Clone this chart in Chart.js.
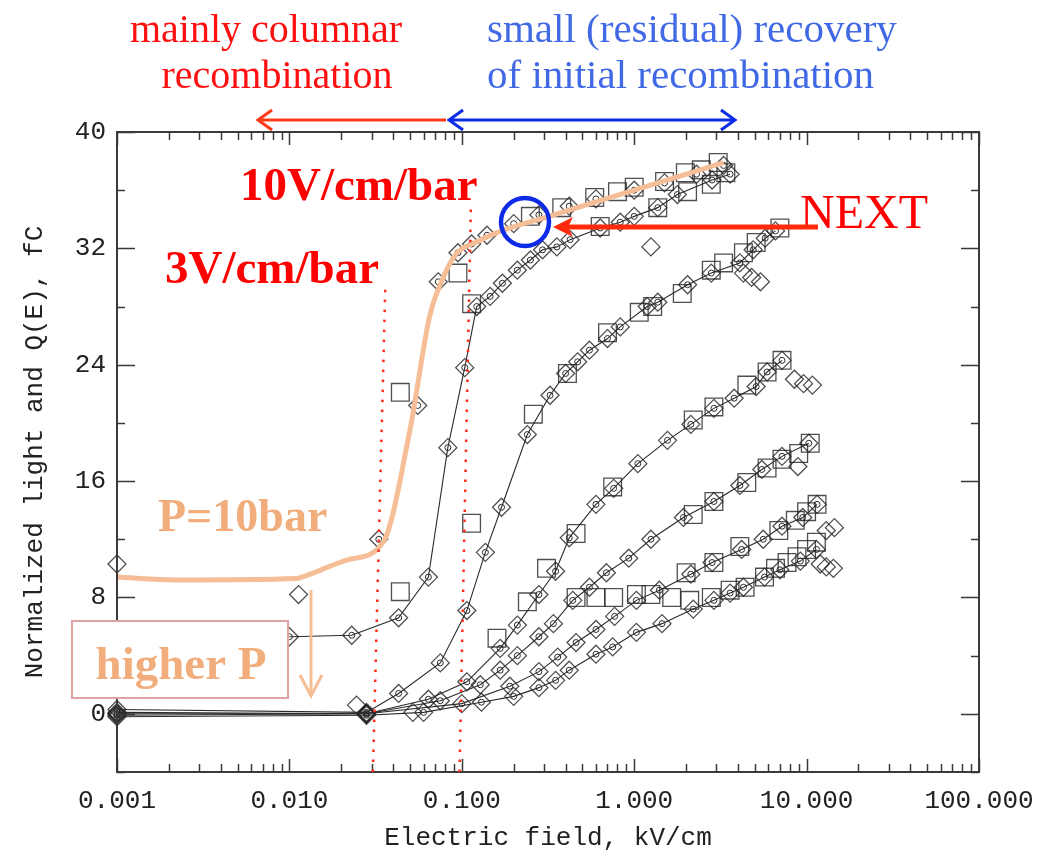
<!DOCTYPE html>
<html>
<head>
<meta charset="utf-8">
<script src="https://cdn.jsdelivr.net/npm/chart.js@4.4.1/dist/chart.umd.min.js"></script>
<style>
    html, body { margin: 0; padding: 0; background: #fff; }
    #wrap { width: 1041px; height: 856px; }
</style>
</head>
<body>
<div id="wrap"><canvas id="chart" width="1041" height="856"></canvas></div>
<script>
// --- values: [field kV/cm, normalized light / Q(E) fC] ---
const xTicks = [0.001, 0.01, 0.1, 1, 10, 100];
const yTicks = [0, 8, 16, 24, 32, 40];

const peachLine = [[0.001, 9.4], [0.0022, 9.2], [0.011, 9.3], [0.0125, 9.5], [0.022, 10.6], [0.035, 11.8],
    [0.05, 19.5], [0.065, 27.3], [0.078, 30.0], [0.094, 31.7], [0.12, 32.4], [0.17, 33.2], [0.3, 34.1],
    [1.0, 36.0], [3.3, 37.9]];

// lowest pressure: markers only, the hand-drawn peach curve sits on top of it
const curveA = [[0.033, 12.0], [0.0555, 21.2], [0.073, 29.7], [0.095, 31.7], [0.114, 32.3], [0.14, 32.9],
    [0.2, 33.7], [0.28, 34.3], [0.42, 34.9], [0.6, 35.4], [1.0, 36.0], [1.5, 36.5], [2.3, 37.1], [3.3, 37.7]];
const curveB = [[0.01, 5.3], [0.023, 5.4], [0.043, 6.6], [0.064, 9.4], [0.083, 18.3], [0.104, 23.8],
    [0.122, 28.0], [0.146, 28.7], [0.172, 29.6], [0.21, 30.5], [0.25, 31.2], [0.294, 31.9], [0.356, 32.1],
    [0.425, 32.6], [0.635, 33.4], [0.83, 33.8], [1.0, 34.2], [1.37, 34.8], [1.78, 35.7], [2.83, 36.7], [3.6, 37.1]];
const curveC = [[0.001, 0.3], [0.028, 0.1], [0.043, 1.4], [0.075, 3.5], [0.107, 7.1], [0.137, 11.1],
    [0.17, 14.2], [0.24, 19.2], [0.325, 21.9], [0.4, 23.4], [0.47, 24.2], [0.55, 25.0], [0.7, 25.8],
    [0.83, 26.6], [1.19, 28.0], [1.37, 28.3], [2.04, 29.5], [2.8, 30.3], [4.1, 31.0], [4.9, 31.9],
    [5.75, 32.7], [6.6, 33.2]];
const curveD = [[0.001, 0.1], [0.028, 0.0], [0.064, 1.0], [0.107, 2.2], [0.167, 4.5], [0.21, 6.1],
    [0.28, 8.2], [0.35, 9.8], [0.42, 12.1], [0.6, 14.4], [0.76, 15.5], [1.05, 17.2], [1.56, 18.8],
    [2.13, 19.9], [2.9, 21.0], [3.8, 21.7], [5.1, 22.5], [5.9, 23.5], [7.2, 24.3]];
const curveE = [[0.001, 0.0], [0.028, 0.0], [0.075, 0.9], [0.128, 2.0], [0.167, 3.0], [0.21, 4.0],
    [0.28, 5.3], [0.34, 6.2], [0.44, 7.8], [0.55, 8.7], [0.69, 9.7], [0.93, 10.7], [1.25, 12.0],
    [1.93, 13.5], [2.9, 14.6], [4.1, 15.7], [5.5, 16.8], [7.2, 17.7], [10.3, 18.6]];
const curveF = [[0.001, -0.1], [0.028, 0.0], [0.1, 0.7], [0.19, 1.9], [0.28, 2.9], [0.36, 3.9],
    [0.46, 4.9], [0.6, 5.8], [0.77, 6.7], [1.03, 7.8], [1.4, 8.5], [2.13, 9.6], [2.83, 10.4],
    [4.2, 11.3], [5.6, 12.0], [7.2, 12.9], [9.5, 13.5], [11.5, 14.4]];
const curveG = [[0.001, -0.2], [0.028, -0.1], [0.06, 0.1], [0.13, 0.8], [0.2, 1.2], [0.28, 1.8],
    [0.35, 2.3], [0.42, 3.0], [0.6, 4.1], [0.75, 4.6], [1.03, 5.6], [1.45, 6.2], [2.2, 7.2], [2.9, 7.8],
    [3.6, 8.3], [4.3, 8.7], [5.7, 9.4], [7.0, 9.9], [9.2, 10.5], [11.4, 11.3]];

const extraDiamonds = [[0.001, 10.3], [0.0113, 8.2], [0.001, 0.0], [0.0245, 0.6], [0.052, 0.1],
    [1.25, 32.1], [4.3, 30.3], [4.8, 30.0], [5.4, 29.7], [8.5, 23.0], [9.6, 22.7], [10.8, 22.6],
    [8.9, 17.0], [13.0, 12.6], [14.5, 12.8], [12.0, 10.3], [13.0, 10.1], [14.3, 10.0]];

const squares = [[0.044, 22.1], [0.095, 30.3], [0.114, 28.2], [0.25, 34.2], [0.38, 34.8], [0.59, 35.5],
    [0.8, 35.9], [1.0, 36.2], [1.5, 36.6], [1.98, 37.2], [2.45, 37.4], [3.07, 37.9], [3.4, 37.2],
    [0.635, 33.5], [1.37, 34.8], [2.04, 35.9], [2.8, 36.4],
    [0.26, 20.6], [0.41, 23.4], [0.7, 26.2], [1.07, 27.6], [1.28, 28.0], [1.9, 28.9], [2.8, 30.5],
    [3.3, 31.0], [4.3, 31.7], [5.1, 32.4], [7.0, 33.4],
    [0.044, 8.4], [0.114, 13.1], [0.16, 5.2], [0.24, 7.7], [0.31, 10.0], [0.46, 12.4], [0.75, 15.6],
    [2.2, 20.2], [2.9, 21.1], [4.5, 22.6], [5.9, 23.5], [7.2, 24.3],
    [2.2, 13.7], [2.9, 14.6], [4.5, 15.9], [5.9, 16.9], [7.2, 17.5], [9.0, 17.9], [10.5, 18.6],
    [2.0, 9.7], [2.9, 10.4], [4.1, 11.5], [6.9, 12.6], [8.6, 13.3], [10.0, 13.9], [11.5, 14.4],
    [0.46, 8.0], [0.6, 8.0], [0.76, 8.0], [1.03, 8.2], [1.25, 8.2], [1.65, 8.0], [2.1, 7.8],
    [2.8, 8.0], [3.6, 8.5], [4.4, 8.7], [5.7, 9.4], [6.6, 10.0], [7.7, 10.4], [8.8, 10.8],
    [10.0, 11.3], [11.4, 11.8]];

// field where 3 V/cm/bar and 10 V/cm/bar sit at 10 bar (bottom, top, top height)
const guideLines = [[0.0305, 0.036, 29.3], [0.097, 0.113, 35.1]];

const linedCurves = [curveB, curveC, curveD, curveE, curveF, curveG];

const PEACH = '#F5BE96';
const PEACH_TEXT = '#F1AE7C';
const INK = '#2a2a2a';
const MARK = 'rgba(35,35,35,0.8)';

const toXY = list => list.map(p => ({ x: p[0], y: p[1] }));

const datasets = [];
datasets.push({
    data: toXY(peachLine),
    showLine: true,
    borderColor: PEACH,
    borderWidth: 5,
    pointRadius: 0,
    cubicInterpolationMode: 'monotone',
    clip: false,
    order: 0
});
[curveA].concat(linedCurves).forEach(c => {
    datasets.push({
        data: toXY(c),
        showLine: c !== curveA,
        borderColor: INK,
        borderWidth: 1.1,
        pointStyle: 'circle',
        pointRadius: 3,
        pointBorderWidth: 1,
        pointBorderColor: INK,
        pointBackgroundColor: 'rgba(0,0,0,0)',
        clip: false,
        order: 2
    });
});
datasets.push({
    data: toXY([curveA].concat(linedCurves).flat().concat(extraDiamonds)),
    showLine: false,
    pointStyle: 'rectRot',
    pointRadius: 9,
    pointBorderWidth: 1.3,
    pointBorderColor: MARK,
    pointBackgroundColor: 'rgba(0,0,0,0)',
    clip: false,
    order: 3
});
datasets.push({
    data: toXY(squares),
    showLine: false,
    pointStyle: 'rect',
    pointRadius: 12.5,
    pointBorderWidth: 1.3,
    pointBorderColor: MARK,
    pointBackgroundColor: 'rgba(0,0,0,0)',
    clip: false,
    order: 3
});

// box, inward ticks on all four sides, log minor ticks
const framePlugin = {
    id: 'frame',
    afterDatasetsDraw(chart) {
        const { ctx, chartArea: a, scales: { x, y } } = chart;
        ctx.save();
        ctx.strokeStyle = '#3a3a3a';
        ctx.lineWidth = 1.5;
        ctx.beginPath();
        for (let d = -3; d <= 2; d++) {
            for (let m = 1; m <= 9; m++) {
                const v = m * Math.pow(10, d);
                if (v > 100.0001) break;
                const px = Math.round(x.getPixelForValue(v)) + 0.5;
                const len = m === 1 ? 13 : 8;
                ctx.moveTo(px, a.bottom); ctx.lineTo(px, a.bottom - len);
                ctx.moveTo(px, a.top); ctx.lineTo(px, a.top + len);
            }
        }
        for (let v = -4; v <= 40; v += 4) {
            const py = Math.round(y.getPixelForValue(v)) + 0.5;
            const len = v % 8 === 0 ? 18 : 8;
            ctx.moveTo(a.left, py); ctx.lineTo(a.left + len, py);
            ctx.moveTo(a.right, py); ctx.lineTo(a.right - len, py);
        }
        ctx.stroke();
        ctx.lineWidth = 2;
        ctx.strokeRect(a.left, a.top, a.right - a.left, a.bottom - a.top);
        ctx.restore();
    }
};

function chevron(ctx, tx, ty, dx, dy, w) {
    // open arrow head, tip at (tx,ty), pointing along -(dx,dy)
    ctx.beginPath();
    ctx.moveTo(tx + dx - dy * w, ty + dy - dx * w);
    ctx.lineTo(tx, ty);
    ctx.lineTo(tx + dx + dy * w, ty + dy + dx * w);
    ctx.stroke();
}

const notesPlugin = {
    id: 'notes',
    afterDraw(chart) {
        const { ctx, chartArea: a, scales: { x, y } } = chart;
        ctx.save();

        // red dotted guides
        ctx.strokeStyle = '#FF2A1A';
        ctx.lineWidth = 2.5;
        ctx.setLineDash([2.5, 7.5]);
        guideLines.forEach(g => {
            ctx.beginPath();
            ctx.moveTo(x.getPixelForValue(g[0]), a.bottom);
            ctx.lineTo(x.getPixelForValue(g[1]), y.getPixelForValue(g[2]));
            ctx.stroke();
        });
        ctx.setLineDash([]);

        // "higher P" box
        ctx.fillStyle = '#fff';
        ctx.fillRect(72, 621, 216, 77);
        ctx.strokeStyle = '#DDA3A3';
        ctx.lineWidth = 2;
        ctx.strokeRect(72, 621, 216, 77);

        ctx.textBaseline = 'alphabetic';
        ctx.fillStyle = PEACH_TEXT;
        ctx.font = 'bold 47px "Liberation Serif", serif';
        ctx.textAlign = 'center';
        ctx.fillText('higher P', 181, 679);
        ctx.textAlign = 'left';
        ctx.font = 'bold 46px "Liberation Serif", serif';
        ctx.fillText('P=10bar', 158, 531);

        // down arrow
        ctx.strokeStyle = PEACH;
        ctx.lineWidth = 3;
        ctx.beginPath();
        ctx.moveTo(311, 590); ctx.lineTo(311, 695);
        ctx.stroke();
        chevron(ctx, 311, 696, 0, -21, 0.52);

        // header notes
        ctx.font = '40px "Liberation Serif", serif';
        ctx.fillStyle = '#FF1010';
        ctx.textAlign = 'center';
        ctx.fillText('mainly columnar', 266, 42);
        ctx.fillText('recombination', 277, 88);
        ctx.fillStyle = '#4169E6';
        ctx.textAlign = 'left';
        ctx.font = '41px "Liberation Serif", serif';
        ctx.fillText('small (residual) recovery', 487, 42);
        ctx.fillText('of initial recombination', 487, 88);

        // header arrows
        ctx.lineWidth = 3;
        ctx.strokeStyle = '#FF3A14';
        ctx.beginPath();
        ctx.moveTo(259, 120); ctx.lineTo(446, 120);
        ctx.stroke();
        chevron(ctx, 258, 120, 14, 0, 0.72);
        ctx.strokeStyle = '#0A2BE8';
        ctx.beginPath();
        ctx.moveTo(450, 120); ctx.lineTo(734, 120);
        ctx.stroke();
        chevron(ctx, 449, 120, 14, 0, 0.72);
        chevron(ctx, 735, 120, -14, 0, 0.72);

        // field labels
        ctx.fillStyle = '#FF0000';
        ctx.font = 'bold 47px "Liberation Serif", serif';
        ctx.fillText('10V/cm/bar', 240, 200);
        ctx.fillText('3V/cm/bar', 165, 283);

        // NEXT
        ctx.font = '48px "Liberation Serif", serif';
        ctx.fillText('NEXT', 800, 228);
        ctx.strokeStyle = '#FF2A0A';
        ctx.lineWidth = 5;
        ctx.beginPath();
        ctx.moveTo(818, 227); ctx.lineTo(566, 227);
        ctx.stroke();
        ctx.fillStyle = '#FF2A0A';
        ctx.beginPath();
        ctx.moveTo(553, 227); ctx.lineTo(573, 217); ctx.lineTo(568, 227); ctx.lineTo(573, 237);
        ctx.closePath();
        ctx.fill();

        // operating point circle
        ctx.strokeStyle = '#0D2BE6';
        ctx.lineWidth = 4.5;
        ctx.beginPath();
        ctx.arc(525, 222, 24, 0, Math.PI * 2);
        ctx.stroke();

        ctx.restore();
    }
};

const axisFont = { family: '"Liberation Mono", monospace', size: 26 };

new Chart(document.getElementById('chart').getContext('2d'), {
    type: 'scatter',
    data: { datasets },
    options: {
        responsive: false,
        animation: false,
        devicePixelRatio: 1,
        layout: { padding: { left: 0, right: 62, top: 132, bottom: 0 } },
        plugins: { legend: { display: false }, tooltip: { enabled: false } },
        scales: {
            x: {
                type: 'logarithmic',
                min: 0.001,
                max: 100,
                afterBuildTicks: s => { s.ticks = xTicks.map(v => ({ value: v })); },
                afterFit: s => {
                    s.height = 84;
                    s.paddingLeft = 0;
                    s.paddingRight = 0;
                },
                grid: { display: false, drawTicks: false },
                border: { display: false },
                ticks: {
                    callback: v => Number(v).toFixed(3),
                    font: axisFont,
                    color: '#222',
                    padding: 14,
                    maxRotation: 0,
                    autoSkip: false
                },
                title: {
                    display: true,
                    text: 'Electric field, kV/cm',
                    font: axisFont,
                    color: '#222',
                    padding: { top: 0, bottom: 2 }
                }
            },
            y: {
                min: -4,
                max: 40,
                afterBuildTicks: s => { s.ticks = yTicks.map(v => ({ value: v })); },
                afterFit: s => {
                    s.width = 117;
                    s.paddingTop = 0;
                    s.paddingBottom = 0;
                },
                grid: { display: false, drawTicks: false },
                border: { display: false },
                ticks: { font: axisFont, color: '#222', padding: 11 },
                title: {
                    display: true,
                    text: 'Normalized light and Q(E), fC',
                    font: axisFont,
                    color: '#222',
                    padding: { top: 20, bottom: 0 }
                }
            }
        }
    },
    plugins: [framePlugin, notesPlugin]
});
</script>
</body>
</html>
